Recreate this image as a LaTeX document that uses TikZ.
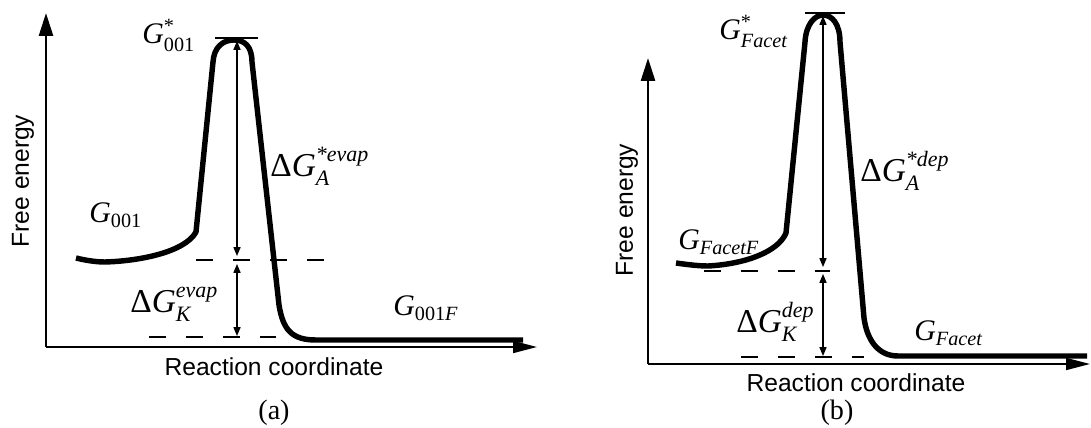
\documentclass[tikz,border=0pt]{standalone}
\usepackage{amsmath}
\usepackage{fontspec}
\setmainfont{Liberation Serif}
\setsansfont{Liberation Sans}
\usetikzlibrary{arrows.meta}
\DeclareMathSizes{17}{17}{11.5}{8}
\DeclareMathSizes{19}{19}{12.5}{9}
\tikzset{
  profile/.style={line width=3.1pt, line join=round},
  yaxisline/.style={line width=1.5pt, -{Triangle[length=0.46cm, width=0.28cm]}},
  xaxisline/.style={line width=1pt, -{Triangle[length=0.48cm, width=0.24cm]}},
  capline/.style={line width=0.9pt},
  levelline/.style={line width=1.5pt, dash pattern=on 9.7pt off 11.3pt},
  gaparrow/.style={line width=0.7pt, {Triangle[length=5pt, width=4pt]}-{Triangle[length=5pt, width=4pt]}},
  glabel/.style={font=\fontsize{17}{20}\selectfont, inner sep=0pt, anchor=base west},
  dlabel/.style={font=\fontsize{19}{22}\selectfont, inner sep=0pt, anchor=base west},
  axlabel/.style={font=\sffamily\fontsize{14}{16}\selectfont, inner sep=0pt},
  caption/.style={font=\rmfamily\fontsize{16}{18}\selectfont, inner sep=0pt},
}

\begin{document}
\begin{tikzpicture}[x=0.02cm, y=-0.02cm]
  \useasboundingbox (0,0) rectangle (1091,428);

  % (a) evaporation
  \coordinate (oa) at (46,347);
  \coordinate (ya) at (46,13);
  \coordinate (xa) at (537,347);
  \draw[yaxisline] (oa) -- (ya);
  \draw[xaxisline] (oa) -- (xa);
  \draw[profile] (76,258) .. controls (88,261) and (98,262) .. (105,262)
    .. controls (140,261) and (185,252) .. (196,232) -- (213,62)
    .. controls (214,47) and (223,40) .. (234,40)
    .. controls (245,40) and (252,47) .. (252,62) -- (279,305)
    .. controls (283,330) and (292,340) .. (316,340) -- (523,340);
  \draw[capline] (215,38) -- (258,38);
  \draw[levelline] (196,260) -- (325,260);
  \draw[levelline] (149,337) -- (276,337);
  \coordinate (a1) at (237,41);
  \coordinate (a2) at (237,256);
  \coordinate (a3) at (237,264);
  \coordinate (a4) at (237,336);
  \draw[gaparrow] (a1) -- (a2);
  \draw[gaparrow] (a3) -- (a4);
  \node[glabel] (gstara) at (142,44) {$\textit{G}^{\text{*}}_{\text{001}}$};
  \node[glabel] (ginia) at (89,223) {$\textit{G}_{\text{001}}$};
  \node[dlabel] (dga) at (270,177) {$\text{Δ}\textit{G}^{\textit{*evap}}_{\textit{A}}$};
  \node[dlabel] (dka) at (130,313) {$\text{Δ}\textit{G}^{\textit{evap}}_{\textit{K}}$};
  \node[glabel] (gfina) at (393,316) {$\textit{G}_{\text{001}\textit{F}}$};
  \node[axlabel, rotate=90] (fea) at (23,181) {Free energy};
  \node[axlabel] (rca) at (274,367) {Reaction coordinate};
  \node[caption] (capa) at (274,413) {(a)};

  % (b) deposition
  \coordinate (ob) at (648,364);
  \coordinate (yb) at (648,58);
  \coordinate (xb) at (1090,364);
  \draw[yaxisline] (ob) -- (yb);
  \draw[xaxisline] (ob) -- (xb);
  \draw[profile] (676,263) .. controls (690,265) and (700,266) .. (708,266)
    .. controls (745,264) and (778,252) .. (786,233) -- (805,42)
    .. controls (806,24) and (815,15) .. (823,15)
    .. controls (832,15) and (840,24) .. (840,42) -- (864,318)
    .. controls (867,340) and (878,356) .. (898,356) -- (1087,356);
  \draw[capline] (805,13) -- (845,13);
  \draw[levelline] (704,271) -- (830,271);
  \draw[levelline] (741,357) -- (864,357);
  \coordinate (b1) at (823,16);
  \coordinate (b2) at (823,267);
  \coordinate (b3) at (823,274);
  \coordinate (b4) at (823,356);
  \draw[gaparrow] (b1) -- (b2);
  \draw[gaparrow] (b3) -- (b4);
  \node[glabel] (gstarb) at (719,40) {$\textit{G}^{\text{*}}_{\textit{Facet}}$};
  \node[glabel] (ginib) at (678,250) {$\textit{G}_{\textit{FacetF}}$};
  \node[dlabel] (dgb) at (860,182) {$\text{Δ}\textit{G}^{\textit{*dep}}_{\textit{A}}$};
  \node[dlabel] (dkb) at (736,333) {$\text{Δ}\textit{G}^{\textit{dep}}_{\textit{K}}$};
  \node[glabel] (gfinb) at (914,341) {$\textit{G}_{\textit{Facet}}$};
  \node[axlabel, rotate=90] (feb) at (627,210) {Free energy};
  \node[axlabel] (rcb) at (856,383) {Reaction coordinate};
  \node[caption] (capb) at (837,413) {(b)};
\end{tikzpicture}
\end{document}
